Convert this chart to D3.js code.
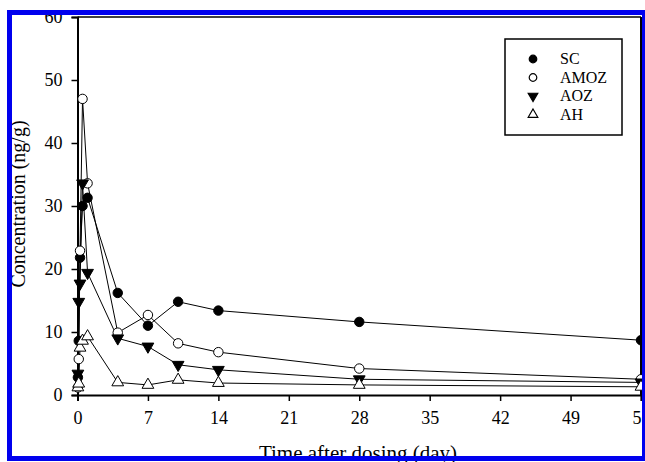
<!DOCTYPE html>
<html>
<head>
<meta charset="utf-8">
<script src="https://cdn.jsdelivr.net/npm/d3@7"></script>
<style>
  body { margin: 0; background: #fff; }
  text { font-family: "Liberation Serif", "Times New Roman", serif; }
</style>
</head>
<body>
<script>
// sampling times (day) and concentrations (ng/g)
const days = [0.04, 0.125, 0.25, 0.5, 1, 4, 7, 10, 14, 28, 56];
const sc   = [2.8, 8.6, 21.8, 30.0, 31.3, 16.2, 11.0, 14.8, 13.4, 11.6, 8.7];
const amoz = [1.2, 5.7, 22.9, 47.0, 33.6, 9.9, 12.7, 8.2, 6.8, 4.2, 2.5];
const aoz  = [3.4, 14.8, 17.7, 33.6, 19.4, 9.0, 7.7, 4.8, 4.0, 2.5, 2.0];
const ah   = [1.2, 1.8, 7.5, 8.6, 9.3, 2.0, 1.6, 2.4, 1.9, 1.6, 1.3];
const seriesNames = ["SC", "AMOZ", "AOZ", "AH"];
const xTicks = [0, 7, 14, 21, 28, 35, 42, 49, 56];
const yTicks = [0, 10, 20, 30, 40, 50, 60];

const W = 645, H = 462;
const svg = d3.select("body").append("svg")
    .attr("width", W)
    .attr("height", H);

const x = d3.scaleLinear().domain([0, 56]).range([77.5, 641]);
const y = d3.scaleLinear().domain([0, 60]).range([395, 17]);

// marker styles per series
const styles = {
    SC:   { type: d3.symbolCircle,   fill: "#000", rot: 0,   size: 70 },
    AMOZ: { type: d3.symbolCircle,   fill: "#fff", rot: 0,   size: 70 },
    AOZ:  { type: d3.symbolTriangle, fill: "#000", rot: 180, size: 60 },
    AH:   { type: d3.symbolTriangle, fill: "#fff", rot: 0,   size: 60 }
};
const values = { SC: sc, AMOZ: amoz, AOZ: aoz, AH: ah };

// box frame (top and right)
svg.append("line").attr("x1", 77.5).attr("x2", 641).attr("y1", 17).attr("y2", 17)
    .attr("stroke", "#000").attr("stroke-width", 1.5);
svg.append("line").attr("x1", 641).attr("x2", 641).attr("y1", 17).attr("y2", 395)
    .attr("stroke", "#000").attr("stroke-width", 2);

// axes
const xAxis = svg.append("g")
    .attr("transform", "translate(0,395)")
    .call(d3.axisBottom(x).tickValues(xTicks).tickSize(6).tickPadding(10));
const yAxis = svg.append("g")
    .attr("transform", "translate(77.5,0)")
    .call(d3.axisLeft(y).tickValues(yTicks).tickSize(6).tickPadding(9));

[xAxis, yAxis].forEach(function(g) {
    g.select(".domain").attr("stroke-width", 2);
    g.selectAll(".tick line").attr("stroke-width", 1.5);
    g.selectAll(".tick text")
        .attr("fill", "#000")
        .style("font-size", "18px");
});

// lines and markers
const line = d3.line()
    .x(d => x(d[0]))
    .y(d => y(d[1]));

seriesNames.forEach(function(name) {
    const pts = days.map((t, i) => [t, values[name][i]]);
    svg.append("path")
        .datum(pts)
        .attr("d", line)
        .attr("fill", "none")
        .attr("stroke", "#000")
        .attr("stroke-width", 1);
});

seriesNames.forEach(function(name) {
    const s = styles[name];
    const pts = days.map((t, i) => [t, values[name][i]]);
    svg.append("g").selectAll("path")
        .data(pts)
        .enter()
        .append("path")
        .attr("d", d3.symbol().type(s.type).size(s.size))
        .attr("transform", d => "translate(" + x(d[0]) + "," + y(d[1]) + ") rotate(" + s.rot + ")")
        .attr("fill", s.fill)
        .attr("stroke", "#000")
        .attr("stroke-width", 1);
});

// legend
const legend = svg.append("g");
legend.append("rect")
    .attr("x", 505).attr("y", 39)
    .attr("width", 117).attr("height", 96)
    .attr("fill", "#fff")
    .attr("stroke", "#000")
    .attr("stroke-width", 1.5);

seriesNames.forEach(function(name, i) {
    const s = styles[name];
    const ly = 59 + i * 18.5;
    legend.append("path")
        .attr("d", d3.symbol().type(s.type).size(s.type === d3.symbolCircle ? 45 : 40))
        .attr("transform", "translate(533," + ly + ") rotate(" + s.rot + ")")
        .attr("fill", s.fill)
        .attr("stroke", "#000")
        .attr("stroke-width", 1.2);
    legend.append("text")
        .attr("x", 560)
        .attr("y", ly + 5)
        .style("font-size", "16px")
        .text(name);
});

// axis titles
svg.append("text")
    .attr("x", 358)
    .attr("y", 460)
    .attr("text-anchor", "middle")
    .style("font-size", "21px")
    .text("Time after dosing (day)");

svg.append("text")
    .attr("transform", "translate(25,204) rotate(-90)")
    .attr("text-anchor", "middle")
    .style("font-size", "20px")
    .text("Concentration (ng/g)");

// blue frame around the figure
svg.append("rect")
    .attr("x", 9.5).attr("y", 12.5)
    .attr("width", 635).attr("height", 446)
    .attr("fill", "none")
    .attr("stroke", "#0000ee")
    .attr("stroke-width", 5);
</script>
</body>
</html>
